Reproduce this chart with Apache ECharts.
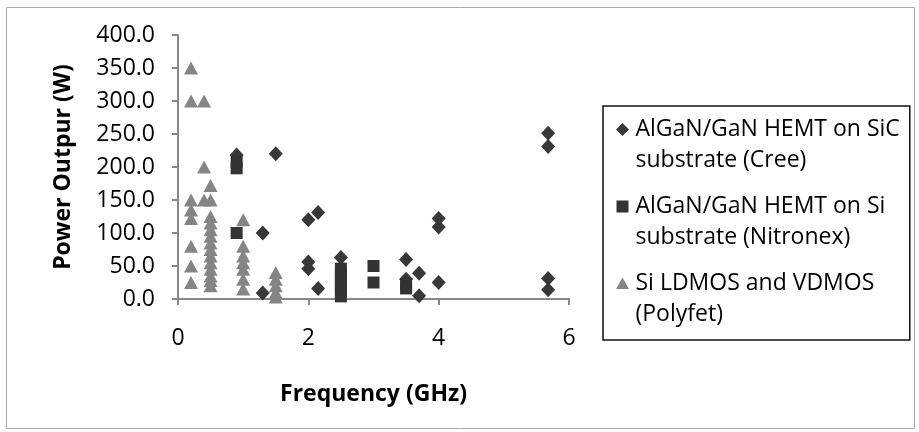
<!DOCTYPE html>
<html>
<head>
<meta charset="utf-8">
<script src="https://cdn.jsdelivr.net/npm/echarts@6/dist/echarts.min.js"></script>
<style>
  html,body{margin:0;padding:0;background:#fff;}
  #main{width:919px;height:432px;}
</style>
</head>
<body>
<div id="main"></div>
<script>
  // AlGaN/GaN HEMT on SiC (Cree)
  var creeGHz=[0.9,1.3,1.5,1.3,2.0,2.15,2.0,2.0,2.15,2.5,3.5,3.5,3.7,3.7,4.0,4.0,4.0,5.68,5.68,5.68,5.68];
  var creeW=[218,100,220,9,120,131,56,46,16,63,60,30,39,5,122,109,25,251,231,31,14];
  // AlGaN/GaN HEMT on Si (Nitronex)
  var nitronexGHz=[0.9,0.9,0.9,2.5,2.5,2.5,2.5,2.5,2.5,2.5,2.5,3.0,3.0,3.5,3.5];
  var nitronexW=[208,198,100,46,40,34,28,22,16,10,4,50,25,22,16];
  // Si LDMOS and VDMOS (Polyfet)
  var polyfetGHz=[0.2,0.2,0.2,0.2,0.2,0.2,0.2,0.2,0.4,0.4,0.4,
    0.5,0.5,0.5,0.5,0.5,0.5,0.5,0.5,0.5,0.5,0.5,0.5,0.5,0.5,
    1.0,1.0,1.0,1.0,1.0,1.0,1.0,1.5,1.5,1.5,1.5,1.5];
  var polyfetW=[350,300,150,135,122,80,50,25,300,200,150,
    172,150,125,115,105,95,85,75,65,55,45,35,28,20,
    120,80,65,55,45,30,15,40,30,20,10,3];

  var seriesNames=[
    "AlGaN/GaN HEMT on SiC\nsubstrate (Cree)",
    "AlGaN/GaN HEMT on Si\nsubstrate (Nitronex)",
    "Si LDMOS and VDMOS\n(Polyfet)"
  ];
  var xMin=0,xMax=6,xStep=2;
  var yMin=0,yMax=400,yStep=50;

  var toPairs=function(xs,ys){
    var out=[];
    xs.forEach(function(x,i){
      out.push([x,ys[i]]);
    })
    return out;
  }

  // legend icons: shape sits on the first text line
  var iconDiamond="path://M6.5,0 L6.5,0.01 M6.5,9 L13,15.5 L6.5,22 L0,15.5 Z M6.5,62 L6.5,62.01";
  var iconSquare="path://M6.5,0 L6.5,0.01 M0.5,9.5 L12.5,9.5 L12.5,21.5 L0.5,21.5 Z M6.5,62 L6.5,62.01";
  var iconTriangle="path://M6.5,0 L6.5,0.01 M6.5,9.5 L13,21 L0,21 Z M6.5,62 L6.5,62.01";

  var font="'Open Sans', 'Liberation Sans', sans-serif";
  var chart=echarts.init(document.getElementById("main"));
  chart.setOption({
    animation:false,
    textStyle:{fontFamily:font},
    graphic:[{
      type:'rect',
      shape:{x:6.5,y:7.5,width:908,height:421},
      style:{fill:'none',stroke:'#aaa',lineWidth:1},
      silent:true
    }],
    grid:{
      left:178,
      top:35,
      width:391,
      height:264
    },
    legend:{
      orient:'vertical',
      left:603,
      top:106,
      padding:[8,10,10,13],
      itemGap:15,
      itemWidth:16,
      itemHeight:62,
      borderColor:'#111',
      borderWidth:1.5,
      textStyle:{fontSize:23,lineHeight:31,color:'#000',fontFamily:font},
      data:[
        {name:seriesNames[0],icon:iconDiamond},
        {name:seriesNames[1],icon:iconSquare},
        {name:seriesNames[2],icon:iconTriangle}
      ]
    },
    xAxis:{
      type:'value',
      min:xMin,
      max:xMax,
      interval:xStep,
      name:'Frequency (GHz)',
      nameLocation:'middle',
      nameGap:84,
      nameTextStyle:{fontSize:23,fontWeight:'bold',color:'#000'},
      axisLine:{lineStyle:{color:'#888',width:2}},
      axisTick:{length:6,lineStyle:{color:'#888',width:2}},
      axisLabel:{fontSize:23,color:'#000',margin:28},
      splitLine:{show:false}
    },
    yAxis:{
      type:'value',
      min:yMin,
      max:yMax,
      interval:yStep,
      name:'Power Outpur (W)',
      nameLocation:'middle',
      nameGap:103,
      nameTextStyle:{fontSize:23,fontWeight:'bold',color:'#000'},
      axisLine:{show:true,lineStyle:{color:'#888',width:2}},
      axisTick:{show:true,length:6,lineStyle:{color:'#888',width:2}},
      axisLabel:{fontSize:23,color:'#000',margin:23,formatter:function(v){return v.toFixed(1);}},
      splitLine:{show:false}
    },
    series:[
      {
        name:seriesNames[0],
        type:'scatter',
        symbol:'diamond',
        symbolSize:[14,15],
        itemStyle:{color:'#383838',opacity:1},
        data:toPairs(creeGHz,creeW)
      },
      {
        name:seriesNames[1],
        type:'scatter',
        symbol:'rect',
        symbolSize:12,
        itemStyle:{color:'#333333',opacity:1},
        data:toPairs(nitronexGHz,nitronexW)
      },
      {
        name:seriesNames[2],
        type:'scatter',
        symbol:'triangle',
        symbolSize:[14,13],
        itemStyle:{color:'#858585',opacity:1},
        data:toPairs(polyfetGHz,polyfetW)
      }
    ]
  });
</script>
</body>
</html>
